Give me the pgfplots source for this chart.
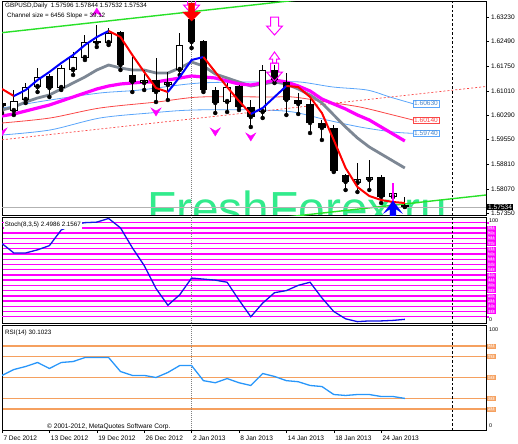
\documentclass[border=0pt]{standalone}
\usepackage{fontspec}
\setmainfont{Liberation Sans}
\usepackage{pgfplots}
\pgfplotsset{compat=1.18}
\usepackage{pgfplotstable}

\definecolor{mtmag}{RGB}{255,0,255}
\definecolor{mtgray}{RGB}{125,135,148}
\definecolor{chanblue}{RGB}{90,165,250}
\definecolor{chanred}{RGB}{250,70,70}
\definecolor{rsiblue}{RGB}{40,150,250}
\definecolor{lvlorange}{RGB}{245,160,95}
\definecolor{wmgreen}{RGB}{50,235,140}
\definecolor{chgreen}{RGB}{40,225,40}
\definecolor{stochblue}{RGB}{20,20,230}

\newcommand\sm{\fontsize{6.6}{8}\selectfont}
\newcommand\xs{\fontsize{5.4}{6}\selectfont}

% arrow marks used by the signal indicators
\pgfdeclareplotmark{fatdown}{%
  \pgfpathmoveto{\pgfqpoint{-3bp}{9bp}}\pgfpathlineto{\pgfqpoint{3bp}{9bp}}%
  \pgfpathlineto{\pgfqpoint{3bp}{0bp}}\pgfpathlineto{\pgfqpoint{9bp}{0bp}}%
  \pgfpathlineto{\pgfqpoint{0bp}{-9bp}}\pgfpathlineto{\pgfqpoint{-9bp}{0bp}}%
  \pgfpathlineto{\pgfqpoint{-3bp}{0bp}}\pgfpathclose\pgfusepathqfillstroke}
\pgfdeclareplotmark{hollowdown}{%
  \pgfpathmoveto{\pgfqpoint{-4bp}{9bp}}\pgfpathlineto{\pgfqpoint{4bp}{9bp}}%
  \pgfpathlineto{\pgfqpoint{4bp}{0bp}}\pgfpathlineto{\pgfqpoint{8bp}{0bp}}%
  \pgfpathlineto{\pgfqpoint{0bp}{-9bp}}\pgfpathlineto{\pgfqpoint{-8bp}{0bp}}%
  \pgfpathlineto{\pgfqpoint{-4bp}{0bp}}\pgfpathclose\pgfusepathqstroke}
\pgfdeclareplotmark{hollowup}{%
  \pgfpathmoveto{\pgfqpoint{-2bp}{-7bp}}\pgfpathlineto{\pgfqpoint{-2bp}{-3bp}}%
  \pgfpathlineto{\pgfqpoint{-5bp}{-3bp}}\pgfpathlineto{\pgfqpoint{0bp}{4bp}}%
  \pgfpathlineto{\pgfqpoint{5bp}{-3bp}}\pgfpathlineto{\pgfqpoint{2bp}{-3bp}}%
  \pgfpathlineto{\pgfqpoint{2bp}{-7bp}}\pgfpathclose\pgfusepathqstroke}
\pgfdeclareplotmark{vhead}{%
  \pgfpathmoveto{\pgfqpoint{-5bp}{4bp}}\pgfpathlineto{\pgfqpoint{0bp}{-4bp}}%
  \pgfpathlineto{\pgfqpoint{5bp}{4bp}}\pgfpathlineto{\pgfqpoint{0bp}{1bp}}%
  \pgfpathclose\pgfusepathqfillstroke}
\pgfdeclareplotmark{uhead}{%
  \pgfpathmoveto{\pgfqpoint{-5bp}{-4bp}}\pgfpathlineto{\pgfqpoint{0bp}{4bp}}%
  \pgfpathlineto{\pgfqpoint{5bp}{-4bp}}\pgfpathlineto{\pgfqpoint{0bp}{-1bp}}%
  \pgfpathclose\pgfusepathqfillstroke}
\pgfdeclareplotmark{blueup}{%
  \pgfpathmoveto{\pgfqpoint{0bp}{7bp}}\pgfpathlineto{\pgfqpoint{9bp}{-5bp}}%
  \pgfpathlineto{\pgfqpoint{3bp}{-1bp}}\pgfpathlineto{\pgfqpoint{3bp}{-14bp}}%
  \pgfpathlineto{\pgfqpoint{-3bp}{-14bp}}\pgfpathlineto{\pgfqpoint{-3bp}{-1bp}}%
  \pgfpathlineto{\pgfqpoint{-9bp}{-5bp}}\pgfpathclose\pgfusepathqfillstroke}

% GBPUSD daily bars: index, open, high, low, close
\pgfplotstableread{
i O H L C
0 1.6065 1.6083 1.6035 1.6056
1 1.6041 1.6104 1.6029 1.6071
2 1.6074 1.6125 1.6065 1.6113
3 1.6113 1.6170 1.6098 1.6143
4 1.6146 1.6152 1.6083 1.6110
5 1.6110 1.6179 1.6104 1.6170
6 1.6164 1.6218 1.6149 1.6203
7 1.6200 1.6269 1.6194 1.6248
8 1.6251 1.6299 1.6233 1.6245
9 1.6245 1.6290 1.6239 1.6275
10 1.6278 1.6281 1.6164 1.6179
11 1.6149 1.6203 1.6098 1.6128
12 1.6125 1.6164 1.6104 1.6134
13 1.6134 1.6200 1.6068 1.6098
14 1.6119 1.6158 1.6074 1.6128
15 1.6164 1.6275 1.6149 1.6239
16 1.6317 1.6338 1.6230 1.6248
17 1.6251 1.6254 1.6098 1.6104
18 1.6104 1.6113 1.6035 1.6065
19 1.6068 1.6125 1.6038 1.6113
20 1.6116 1.6119 1.6044 1.6053
21 1.6053 1.6074 1.5993 1.6023
22 1.6038 1.6179 1.6020 1.6164
23 1.6164 1.6179 1.6125 1.6134
24 1.6128 1.6155 1.6029 1.6074
25 1.6074 1.6095 1.6032 1.6062
26 1.6062 1.6080 1.5975 1.6005
27 1.6005 1.6014 1.5954 1.5990
28 1.5990 1.5999 1.5858 1.5861
29 1.5849 1.5852 1.5804 1.5828
30 1.5825 1.5885 1.5798 1.5837
31 1.5834 1.5894 1.5804 1.5843
32 1.5843 1.5849 1.5765 1.5783
33 1.5783 1.5825 1.5765 1.5795
34 1.57596 1.57844 1.57532 1.57534
}\ohlc

\pgfplotsset{
  panel/.style={scale only axis, anchor=north west, width=484bp,
    xmin=0, xmax=40.85, axis line style={black, line width=0.7bp},
    clip=true, major tick length=3bp, tick align=outside,
    tick style={black, line width=0.5bp}, ticklabel style={font=\sm}},
}

\begin{document}
\begin{tikzpicture}
\path[use as bounding box] (0bp,0bp) rectangle (518bp,-444bp);

% watermark behind the price chart
\begin{scope}
\clip (2bp,-1bp) rectangle (486bp,-215bp);
\node[anchor=base west, inner sep=0pt, text=wmgreen,
  font=\fontsize{48}{48}\selectfont] at (147bp,-225bp) {FreshForex.ru};
\end{scope}

% ---------------- price chart ----------------
\begin{axis}[panel, at={(2bp,-1bp)}, height=214bp,
  ymin=1.5729, ymax=1.6371, xtick=\empty,
  ytick={1.6323,1.6249,1.6175,1.6101,1.6029,1.5955,1.5881,1.5807,1.5735},
  yticklabels={1.63230,1.62490,1.61750,1.61010,1.60290,1.59550,1.58810,1.58070,1.57350},
  ytick pos=right, yticklabel pos=right,
  yticklabel style={anchor=west, xshift=-1.5bp, font=\sm},
  clip marker paths=true]

% regression channel
\addplot[chanblue, line width=0.8bp, smooth] coordinates {
 (0,1.6050) (4.05,1.6074) (8.27,1.6095) (11.65,1.6104) (16.71,1.6125)
 (22.62,1.6128) (25.15,1.6128) (27.93,1.6113) (30.8,1.6104) (32.74,1.6083) (34.68,1.6063)};
\addplot[chanred, line width=0.8bp, smooth] coordinates {
 (0,1.6005) (4.05,1.6020) (8.27,1.6050) (13.08,1.6068) (16.71,1.6083)
 (22.62,1.6083) (24.56,1.6083) (27.43,1.6068) (30.21,1.6053) (33.0,1.6029) (34.68,1.6014)};
\addplot[chanblue, line width=0.8bp, smooth] coordinates {
 (0,1.5969) (4.05,1.5984) (8.27,1.6020) (12.49,1.6035) (16.12,1.6044)
 (21.77,1.6044) (24.56,1.6038) (27.43,1.6014) (30.21,1.5993) (33.0,1.5978) (34.68,1.5974)};
\addplot[chanred, line width=0.7bp, dash pattern=on 2bp off 2bp] coordinates {(0,1.59546) (40.85,1.61145)};

% trend channel borders
\addplot[chgreen, line width=1.4bp] coordinates {(0,1.6276) (26,1.6378)};
\addplot[chgreen, line width=1.4bp] coordinates {(24,1.5723) (40.85,1.5789)};

% bid line and separators
\addplot[black!30, line width=0.6bp] coordinates {(0,1.57534) (40.85,1.57534)};
\addplot[black!50, line width=1bp, densely dotted] coordinates {(16,1.5729) (16,1.6371)};
\addplot[black, line width=0.6bp, dash pattern=on 2.5bp off 2bp] coordinates {(38,1.5729) (38,1.6371)};

% slow averages
\addplot[mtgray, line width=2.8bp] coordinates {
 (0,1.6044)(1,1.6053)(2,1.6068)(3,1.6080)(4,1.6089)(5,1.6107)(6,1.6125)(7,1.6143)
 (8,1.6164)(9,1.6179)(10,1.6170)(11,1.6164)(12,1.6164)(13,1.6155)(14,1.6155)(15,1.6170)
 (16,1.6188)(17,1.6176)(18,1.6152)(19,1.6140)(20,1.6128)(21,1.6116)(22,1.6122)(23,1.6128)
 (24,1.6122)(25,1.6107)(26,1.6089)(27,1.6065)(28,1.6029)(29,1.5993)(30,1.5960)(31,1.5933)
 (32,1.5912)(33,1.5891)(34,1.5870)};
\addplot[mtmag, line width=3.2bp] coordinates {
 (0,1.6026)(1,1.6032)(2,1.6041)(3,1.6050)(4,1.6059)(5,1.6071)(6,1.6083)(7,1.6095)
 (8,1.6107)(9,1.6116)(10,1.6122)(11,1.6125)(12,1.6128)(13,1.6128)(14,1.6134)(15,1.6140)
 (16,1.6146)(17,1.6143)(18,1.6140)(19,1.6131)(20,1.6122)(21,1.6119)(22,1.6125)(23,1.6134)
 (24,1.6128)(25,1.6116)(26,1.6101)(27,1.6077)(28,1.6062)(29,1.6047)(30,1.6029)(31,1.6014)
 (32,1.5993)(33,1.5972)(34,1.5951)};

% candles: wicks, bodies, hollow interiors of rising bars
\addplot[only marks, mark=none, forget plot,
  error bars/.cd, y dir=plus, y explicit, error mark=none,
  error bar style={draw=black, solid, line width=0.9bp}]
  table[x=i, y=L, y error expr={\thisrow{H}-\thisrow{L}}] {\ohlc};
\addplot[only marks, mark=none, forget plot,
  error bars/.cd, y dir=plus, y explicit, error mark=none,
  error bar style={draw=black, solid, line width=7.5bp}]
  table[x=i, y expr={min(\thisrow{O},\thisrow{C})},
        y error expr={abs(\thisrow{C}-\thisrow{O})}] {\ohlc};
\addplot[only marks, mark=none, forget plot,
  error bars/.cd, y dir=plus, y explicit, error mark=none,
  error bar style={draw=white, solid, line width=5.5bp}]
  table[x=i, y expr={min(\thisrow{O},\thisrow{C})+0.0003+(\thisrow{C}<\thisrow{O})},
        y error expr={abs(\thisrow{C}-\thisrow{O})-0.0006}] {\ohlc};

% fast average, coloured by direction
\addplot[red, line width=2bp] coordinates {(0,1.6107)(1,1.6086)};
\addplot[blue, line width=2bp] coordinates {(1,1.6086)(2,1.6104)(3,1.6134)(4,1.6158)(5,1.6185)(6,1.6209)(7,1.6239)(8,1.6263)(9,1.6281)};
\addplot[red, line width=2bp] coordinates {(9,1.6281)(10,1.6263)(11,1.6209)(12,1.6158)(13,1.6110)(14,1.6098)};
\addplot[blue, line width=2bp] coordinates {(14,1.6098)(15,1.6143)(16,1.6194)(17,1.6203)};
\addplot[red, line width=2bp] coordinates {(17,1.6203)(18,1.6158)(19,1.6113)(20,1.6071)(21,1.6032)};
\addplot[blue, line width=2bp] coordinates {(21,1.6032)(22,1.6050)(23,1.6083)(24,1.6116)};
\addplot[red, line width=2bp] coordinates {(24,1.6116)(25,1.6113)(26,1.6083)(27,1.6035)(28,1.5954)(29,1.5870)(30,1.5813)(31,1.5786)(32,1.5774)(33,1.5768)(34,1.5765)};

% signal arrows
\addplot[only marks, mark=hollowdown, mark options={draw=mtmag, line width=1bp}] coordinates {(16,1.6359) (23,1.6296) (23,1.6158)};
\addplot[only marks, mark=fatdown, mark options={draw=red, fill=red}] coordinates {(16,1.6338)};
\addplot[only marks, mark=hollowup, mark options={draw=mtmag, line width=1bp}] coordinates {(23,1.6206)};
\addplot[only marks, mark=vhead, mark options={draw=mtmag, fill=mtmag}] coordinates {(0,1.5978) (13,1.6038) (18,1.5978) (21,1.5963)};
\addplot[only marks, mark=uhead, mark options={draw=mtmag, fill=mtmag}] coordinates {(8,1.6338)};
\addplot[mtmag, line width=2.5bp] coordinates {(33,1.5825) (33,1.5753)};
\addplot[only marks, mark=blueup, mark options={draw=blue, fill=blue}] coordinates {(33,1.5750)};

% channel level tags
\node[anchor=west, draw=chanblue, fill=white, text=chanblue!80!black, font=\sm, inner sep=0.8bp] at (axis cs:34.7,1.6063) {1.60630};
\node[anchor=west, draw=chanred, fill=white, text=chanred, font=\sm, inner sep=0.8bp] at (axis cs:34.7,1.6014) {1.60140};
\node[anchor=west, draw=chanblue, fill=white, text=chanblue!80!black, font=\sm, inner sep=0.8bp] at (axis cs:34.7,1.5974) {1.59740};
\coordinate (cp) at (axis cs:40.85,1.57534);
\end{axis}

% ---------------- stochastic ----------------
\begin{axis}[panel, at={(2bp,-217bp)}, height=106bp,
  ymin=-1, ymax=100.4, xtick=\empty,
  ytick={10,15,...,90}, extra y ticks={5,95}, extra y tick labels={},
  ymajorgrids, major grid style={mtmag, line width=1.4bp},
  extra y tick style={grid=major},
  ytick style={draw=none}, ytick pos=right, yticklabel pos=right,
  yticklabel style={anchor=west, xshift=-2bp, font=\xs, text=white, draw=mtmag, fill=mtmag!75, inner sep=0.4bp}]
\addplot[black!50, line width=1bp, densely dotted] coordinates {(16,-1) (16,100.4)};
\addplot[black, line width=0.6bp, dash pattern=on 2.5bp off 2bp] coordinates {(38,-1) (38,100.4)};
\addplot[stochblue, line width=1.3bp] coordinates {
 (0,75)(1,66)(2,66)(3,69)(4,73)(5,88)(6,93)(7,95)(8,95.5)(9,99)(10,90)(11,71)(12,54)
 (13,32)(14,16)(15,26)(16,42)(17,41)(18,40)(19,38)(20,21)(21,5)(22,18)(23,28)(24,30)
 (25,35)(26,38)(27,23)(28,10)(29,3)(30,0.3)(31,1)(32,1)(33,1.5)(34,2.4986)};
\end{axis}

% ---------------- RSI ----------------
\begin{axis}[panel, at={(2bp,-325bp)}, height=105bp,
  ymin=0, ymax=100,
  xtick={0,4,8,12,16,20,24,28,32},
  xticklabels={7 Dec 2012,13 Dec 2012,19 Dec 2012,26 Dec 2012,2 Jan 2013,8 Jan 2013,14 Jan 2013,18 Jan 2013,24 Jan 2013},
  xtick pos=lower, xticklabel style={anchor=north west, xshift=-2bp, yshift=0.5bp, font=\sm},
  ytick={20,30,50,70,80}, ymajorgrids, major grid style={lvlorange, line width=1.5bp},
  ytick style={draw=none}, ytick pos=right, yticklabel pos=right,
  yticklabel style={anchor=west, xshift=-2bp, font=\xs, text=white, draw=lvlorange, fill=lvlorange!80, inner sep=0.5bp}]
\addplot[black!50, line width=1bp, densely dotted] coordinates {(16,0) (16,100)};
\addplot[black, line width=0.6bp, dash pattern=on 2.5bp off 2bp] coordinates {(38,0) (38,100)};
\addplot[rsiblue, line width=1.3bp] coordinates {
 (0,52.0)(1,57.6)(2,60.5)(3,64.3)(4,58.6)(5,64.3)(6,65.2)(7,69.0)(8,69.0)(9,69.0)
 (10,55.7)(11,52.0)(12,52.0)(13,50.0)(14,54.8)(15,61.4)(16,61.4)(17,47.0)(18,45.0)
 (19,49.0)(20,45.0)(21,42.4)(22,53.8)(23,51.0)(24,47.0)(25,46.0)(26,42.4)(27,41.4)
 (28,33.8)(29,32.9)(30,33.8)(31,33.8)(32,31.9)(33,31.9)(34,30.1023)};
\end{axis}

% window captions and scale marks
\node[anchor=west, font=\fontsize{6.3}{7}\selectfont, inner sep=0pt] at (5bp,-6bp) {GBPUSD,Daily\ \ 1.57596 1.57844 1.57532 1.57534};
\node[anchor=west, font=\fontsize{6.3}{7}\selectfont, inner sep=0pt] at (7bp,-15.5bp) {Channel size = 6456 Slope = 39.12};
\node[anchor=west, fill=white, font=\fontsize{6.3}{7}\selectfont, inner sep=1.2bp] at (3.5bp,-225bp) {Stoch(8,3,5) 2.4986 2.1567};
\node[anchor=west, font=\fontsize{6.3}{7}\selectfont, inner sep=0pt] at (5bp,-333bp) {RSI(14) 30.1023};
\node[anchor=west, font=\sm, inner sep=0pt] at (47bp,-426.5bp) {© 2001-2012, MetaQuotes Software Corp.};
\node[anchor=west, font=\xs, inner sep=0pt] at (489bp,-220.5bp) {100};
\node[anchor=west, font=\xs, inner sep=0pt] at (489bp,-319.5bp) {0};
\node[anchor=west, font=\xs, inner sep=0pt] at (489bp,-330bp) {100};
\node[anchor=west, font=\xs, inner sep=0pt] at (489bp,-426bp) {0};
\node[anchor=west, fill=black, text=white, font=\sm, inner sep=1bp, xshift=1bp] at (cp) {1.57534};
\end{tikzpicture}
\end{document}
